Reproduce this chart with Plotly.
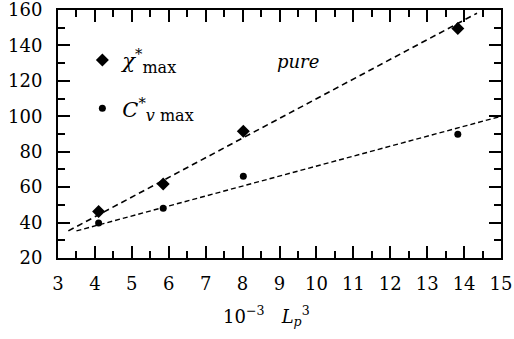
import plotly.graph_objects as go

# Data
L3 = [4.1, 5.85, 8.02, 13.83]
chi_max = [46.2, 61.8, 91.5, 149.5]
cv_max = [39.8, 48.1, 66.2, 89.8]

# Dashed guide lines (endpoints)
chi_fit_x = [3.28, 14.35]
chi_fit_y = [35.3, 158.2]
cv_fit_x = [3.5, 15.0]
cv_fit_y = [35.3, 100.0]

x_ticks = list(range(3, 16))
y_ticks = list(range(20, 161, 20))

FONT = "DejaVu Serif"
FS = 18

fig = go.Figure()
fig.add_trace(go.Scatter(x=chi_fit_x, y=chi_fit_y, mode="lines",
                         line=dict(color="black", width=1.6, dash="6px,4px"),
                         showlegend=False, hoverinfo="skip"))
fig.add_trace(go.Scatter(x=cv_fit_x, y=cv_fit_y, mode="lines",
                         line=dict(color="black", width=1.4, dash="5px,3px"),
                         showlegend=False, hoverinfo="skip"))
fig.add_trace(go.Scatter(x=L3, y=chi_max, mode="markers",
                         marker=dict(symbol="diamond", size=10, color="black"),
                         name="<i>χ</i><sup>*</sup><sub><span style=\"font-size:16px\">max</span></sub>",
                         legendgroup="a"))
fig.add_trace(go.Scatter(x=L3, y=cv_max, mode="markers",
                         marker=dict(symbol="circle", size=7, color="black"),
                         name="<i>C</i><sup>*</sup><sub><span style=\"font-size:16px\"><i>v</i> max</span></sub>",
                         legendgroup="b"))

fig.add_annotation(x=9.5, y=131, text="<i>pure</i>", showarrow=False,
                   font=dict(family=FONT, size=FS, color="black"))
fig.add_annotation(xref="paper", yref="paper", x=0.47, y=-0.232, yanchor="middle",
                   text="10<sup>−3</sup>   <i>L</i><sub><i>p</i></sub><sup>3</sup>",
                   showarrow=False, font=dict(family=FONT, size=FS, color="black"))

axis_common = dict(showgrid=False, zeroline=False, showline=True, linecolor="black",
                   linewidth=2, ticks="inside", tickwidth=2, ticklen=12, tickcolor="black",
                   mirror="ticks", automargin=False, ticklabeloverflow="allow",
                   tickfont=dict(family=FONT, size=FS, color="black"))
fig.update_xaxes(range=[3, 15], tickvals=x_ticks, ticklabelstandoff=8,
                 minor=dict(dtick=0.5, tick0=3, ticks="inside", ticklen=7, tickwidth=2,
                            tickcolor="black", showgrid=False),
                 **axis_common)
fig.update_yaxes(range=[20, 160], tickvals=y_ticks, ticklabelstandoff=10,
                 minor=dict(dtick=10, tick0=20, ticks="inside", ticklen=7, tickwidth=2,
                            tickcolor="black", showgrid=False),
                 **axis_common)

fig.update_layout(width=514, height=339, margin=dict(l=58, r=13, t=10, b=81),
                  paper_bgcolor="white", plot_bgcolor="white",
                  font=dict(family=FONT, size=FS, color="black"),
                  legend=dict(x=0.055, y=0.70, xanchor="left", yanchor="middle",
                              bgcolor="rgba(0,0,0,0)", traceorder="grouped",
                              tracegroupgap=18, itemwidth=30,
                              font=dict(family=FONT, size=21, color="black")))
fig.write_html("out.html")
